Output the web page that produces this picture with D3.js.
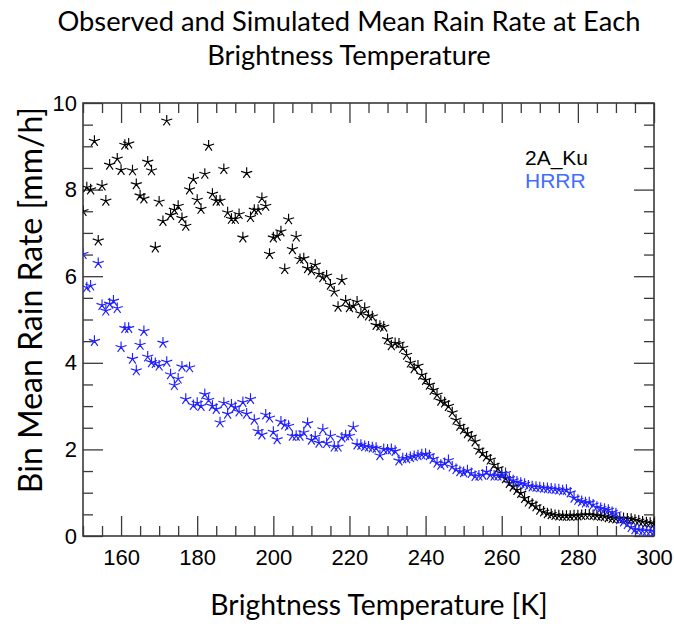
<!DOCTYPE html>
<html>
<head>
<meta charset="utf-8">
<script src="https://cdn.jsdelivr.net/npm/d3@7"></script>
<style>
  html, body { margin: 0; padding: 0; background: #fff; }
  svg { display: block; }
</style>
</head>
<body>
<svg id="chart" width="674" height="626"></svg>
<script>
// ---------------- data ----------------
const titleLines = ["Observed and Simulated Mean Rain Rate at Each", "Brightness Temperature"];
const xTitle = "Brightness Temperature [K]";
const yTitle = "Bin Mean Rain Rate [mm/h]";
const seriesNames = ["2A_Ku", "HRRR"];
const xTickValues = [160, 180, 200, 220, 240, 260, 280, 300];
const yTickValues = [0, 2, 4, 6, 8, 10];

const kuT = [150,151,152,153,154,155,156,157,159,160,161,162,163,164,165,166,167,168,169,170,
  171,172,173,174,175,176,177,178,179,180,181,182,183,184,185,186,187,188,189,190,
  191,192,193,194,195,196,197,198,199,200,201,202,203,204,205,206,207,208,209,210,
  211,212,213,214,215,216,217,218,219,220,221,222,223,224,225,226,227,228,229,230,
  231,232,233,234,235,236,237,238,239,240,241,242,243,244,245,246,247,248,249,250,
  251,252,253,254,255,256,257,258,259,260,261,262,263,264,265,266,267,268,269,270,
  271,272,273,274,275,276,277,278,279,280,281,282,283,284,285,286,287,288,289,290,
  291,292,293,294,295,296,297,298,299,300];
const kuRate = [7.50,8.05,8.00,9.12,6.82,8.09,7.74,8.57,8.71,8.45,9.03,9.06,8.44,8.12,7.86,7.79,8.64,8.44,6.66,7.72,
  7.27,9.59,7.41,7.53,7.62,7.34,7.16,8.00,8.24,7.76,7.55,8.36,9.01,7.90,7.74,7.74,8.47,7.47,7.32,7.32,
  7.43,6.89,8.38,7.36,7.53,7.53,7.80,7.62,6.51,6.89,6.93,7.03,6.16,7.31,6.62,6.91,6.39,6.41,6.18,6.13,
  6.26,6.05,5.97,6.01,5.80,5.64,5.29,5.91,5.43,5.28,5.31,5.41,5.14,5.26,5.09,5.07,4.87,4.85,4.83,4.54,
  4.40,4.45,4.44,4.34,4.18,4.00,3.87,3.93,3.72,3.60,3.49,3.37,3.26,3.12,3.08,3.00,2.85,2.68,2.54,2.46,
  2.37,2.29,2.18,1.99,1.91,1.83,1.76,1.64,1.56,1.45,1.33,1.22,1.14,1.06,0.99,0.87,0.79,0.74,0.68,0.60,
  0.56,0.52,0.50,0.48,0.47,0.46,0.46,0.46,0.47,0.47,0.48,0.49,0.49,0.48,0.47,0.46,0.45,0.43,0.41,0.40,
  0.40,0.41,0.40,0.39,0.37,0.35,0.33,0.31,0.30,0.28];

const hrrrT = [150,151,152,153,154,155,156,157,158,159,160,161,162,163,164,165,166,167,168,169,170,
  171,172,173,174,175,176,177,178,179,180,181,182,183,184,185,186,187,188,189,190,
  191,192,193,194,195,196,197,198,199,200,201,202,203,204,205,206,207,208,209,210,
  211,212,213,214,215,216,217,218,219,220,221,222,223,224,225,226,227,228,229,230,
  231,232,233,234,235,236,237,238,239,240,241,242,243,244,245,246,247,248,249,250,
  251,252,253,254,255,256,257,258,259,260,261,262,263,264,265,266,267,268,269,270,
  271,272,273,274,275,276,277,278,279,280,281,282,283,284,285,286,287,288,289,290,
  291,292,293,294,295,296,297,298,299,300];
const hrrrRate = [6.51,5.74,5.78,4.50,6.30,5.33,5.20,5.36,5.43,5.26,4.36,4.80,4.80,4.09,3.82,4.41,4.73,4.14,4.01,3.99,3.93,
  4.46,4.02,3.73,3.48,3.63,3.91,3.16,3.89,3.02,3.07,3.00,3.27,3.14,3.00,2.93,2.62,3.07,2.82,3.03,2.97,
  2.87,3.09,2.82,3.16,2.68,2.42,2.34,2.80,2.73,2.40,2.23,2.64,2.57,2.54,2.31,2.31,2.31,2.39,2.60,2.22,
  2.29,2.15,2.46,2.14,2.31,2.06,2.06,2.27,2.32,2.31,2.51,2.11,2.10,2.07,2.06,2.04,2.03,1.86,2.00,1.99,
  2.00,1.96,1.74,1.79,1.79,1.82,1.84,1.86,1.88,1.89,1.86,1.78,1.69,1.64,1.68,1.75,1.60,1.54,1.49,1.47,
  1.51,1.45,1.38,1.39,1.41,1.48,1.41,1.39,1.39,1.39,1.45,1.33,1.28,1.25,1.22,1.20,1.16,1.14,1.13,1.12,
  1.11,1.10,1.09,1.08,1.07,1.05,1.06,1.00,0.88,0.83,0.80,0.77,0.77,0.72,0.67,0.64,0.62,0.60,0.55,0.52,
  0.38,0.33,0.27,0.20,0.15,0.14,0.12,0.12,0.11,0.10];

(function () {
// ---------------- layout ----------------
const svg = d3.select("#chart");
const pLeft = 83, pRight = 654, pTop = 103, pBottom = 536;
const x = d3.scaleLinear().domain([150, 300]).range([pLeft, pRight]);
const y = d3.scaleLinear().domain([0, 10]).range([pBottom, pTop]);

const frameColor = "#3a3a3a";
const kuColor = "#000000";
const hrrrColor = "#1f1fff";
const hrrrTextColor = "#3f6dff";
const titleFont = "Lato, 'Open Sans', sans-serif";
const tickFont = "'Liberation Sans', Arial, sans-serif";

// ---------------- title ----------------
svg.selectAll("text.title").data(titleLines).enter().append("text")
  .attr("class", "title")
  .attr("x", 349)
  .attr("y", (d, i) => 31 + i * 34)
  .attr("text-anchor", "middle")
  .style("font-family", titleFont)
  .style("font-size", "27.3px")
  .style("fill", "#000")
  .text(d => d);

// ---------------- axes ----------------
const xMinor = d3.range(150, 301, 5).filter(v => v % 20 !== 0);
const yMinor = d3.range(0, 10.01, 0.5).filter(v => v % 2 !== 0);

function axisGroup(axisGen, tx, ty) {
  const g = svg.append("g").attr("transform", `translate(${tx},${ty})`).call(axisGen);
  g.select(".domain").remove();
  g.selectAll(".tick line").attr("stroke", frameColor).attr("stroke-width", 1.3);
  return g;
}

const gxb = axisGroup(d3.axisBottom(x).tickValues(xTickValues).tickSize(-20).tickPadding(14).tickFormat(d3.format("d")), 0, pBottom);
gxb.selectAll(".tick text").style("font-family", tickFont).style("font-size", "22px").attr("fill", "#000")
  .attr("dy", "0.71em").attr("y", 13);
axisGroup(d3.axisBottom(x).tickValues(xMinor).tickSize(-10).tickFormat(""), 0, pBottom);
axisGroup(d3.axisTop(x).tickValues(xTickValues).tickSize(-20).tickFormat(""), 0, pTop);
axisGroup(d3.axisTop(x).tickValues(xMinor).tickSize(-10).tickFormat(""), 0, pTop);
const gyl = axisGroup(d3.axisLeft(y).tickValues(yTickValues).tickSize(-20).tickPadding(6).tickFormat(d3.format("d")), pLeft, 0);
gyl.selectAll(".tick text").style("font-family", tickFont).style("font-size", "22px").attr("fill", "#000");
axisGroup(d3.axisLeft(y).tickValues(yMinor).tickSize(-10).tickFormat(""), pLeft, 0);
axisGroup(d3.axisRight(y).tickValues(yTickValues).tickSize(-20).tickFormat(""), pRight, 0);
axisGroup(d3.axisRight(y).tickValues(yMinor).tickSize(-10).tickFormat(""), pRight, 0);

svg.append("rect")
  .attr("x", pLeft).attr("y", pTop)
  .attr("width", pRight - pLeft).attr("height", pBottom - pTop)
  .attr("fill", "none").attr("stroke", frameColor).attr("stroke-width", 1.6);

svg.append("text")
  .attr("x", 379).attr("y", 615)
  .attr("text-anchor", "middle")
  .style("font-family", titleFont).style("font-size", "28.3px")
  .text(xTitle);
svg.append("text")
  .attr("transform", "translate(42,300) rotate(-90)")
  .attr("text-anchor", "middle")
  .style("font-family", titleFont).style("font-size", "32px")
  .text(yTitle);

// ---------------- markers ----------------
function asterisk(r) {
  let p = "";
  for (let k = 0; k < 5; k++) {
    const a = -Math.PI / 2 + k * 2 * Math.PI / 5;
    p += `M0,0L${(r * Math.cos(a)).toFixed(2)},${(r * Math.sin(a)).toFixed(2)}`;
  }
  return p;
}
const starPath = asterisk(5.8);

svg.append("clipPath").attr("id", "plotclip").append("rect")
  .attr("x", pLeft).attr("y", pTop - 10).attr("width", pRight - pLeft + 1).attr("height", pBottom - pTop + 10);

function drawSeries(ts, vs, color, cls) {
  const pts = ts.map((t, i) => ({ t, v: vs[i] }));
  svg.append("g").attr("clip-path", "url(#plotclip)")
    .selectAll("path." + cls).data(pts).enter().append("path")
    .attr("class", cls)
    .attr("d", starPath)
    .attr("transform", d => `translate(${x(d.t)},${y(d.v)})`)
    .attr("fill", "none")
    .attr("stroke", color)
    .attr("stroke-width", 1.15);
}
drawSeries(kuT, kuRate, kuColor, "ku");
drawSeries(hrrrT, hrrrRate, hrrrColor, "hrrr");

// ---------------- legend ----------------
svg.selectAll("text.legend").data(seriesNames).enter().append("text")
  .attr("class", "legend")
  .attr("x", 525)
  .attr("y", (d, i) => 165 + i * 22.5)
  .style("font-family", tickFont)
  .style("font-size", "21px")
  .attr("fill", (d, i) => i === 0 ? "#000" : hrrrTextColor)
  .text(d => d);
})();
</script>
</body>
</html>
